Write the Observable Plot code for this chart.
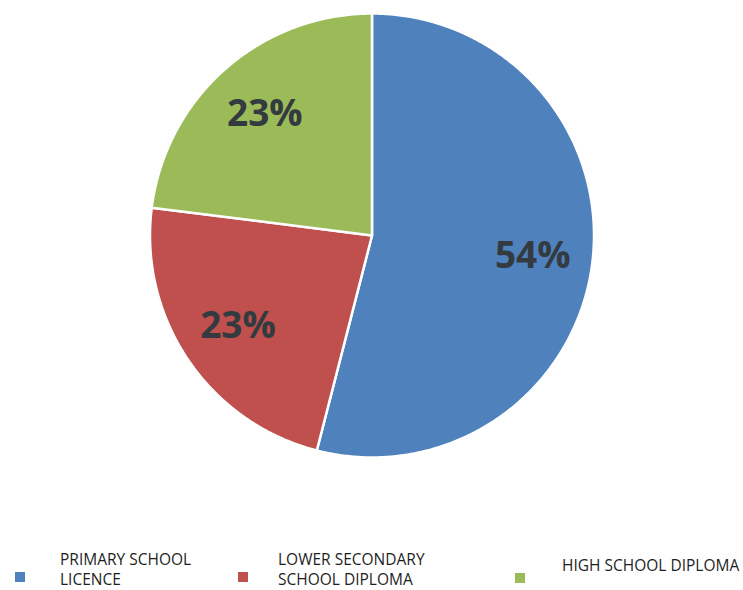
<!DOCTYPE html>
<html>
<head>
<meta charset="utf-8">
<script src="https://cdn.jsdelivr.net/npm/d3@7"></script>
<script src="https://cdn.jsdelivr.net/npm/@observablehq/plot@0.6"></script>
<style>
  html, body { margin: 0; padding: 0; background: #fff; }
  #wrap { position: relative; width: 743px; height: 590px; overflow: hidden; font-family: "Open Sans", sans-serif; }
  #chart { position: absolute; left: 0; top: 0; }
  .leg { position: absolute; font-size: 15.5px; line-height: 20px; color: #1e1e1e; white-space: nowrap; }
  .sw { position: absolute; width: 10px; height: 10px; }
</style>
</head>
<body>
<div id="wrap">
  <div id="chart"></div>
</div>
<script>
// Data
const categories = ["PRIMARY SCHOOL LICENCE", "LOWER SECONDARY SCHOOL DIPLOMA", "HIGH SCHOOL DIPLOMA"];
const legendLines = [["PRIMARY SCHOOL", "LICENCE"], ["LOWER SECONDARY", "SCHOOL DIPLOMA"], ["HIGH SCHOOL DIPLOMA"]];
const values = [54, 23, 23];
const labels = ["54%", "23%", "23%"];
const colors = ["#4f81bd", "#c0504d", "#9bbb59"];

// Pie geometry via d3.pie (angles clockwise from 12 o'clock)
const arcs = d3.pie().sort(null).value(d => d)(values);
const outline = [];
const labelPts = [];
arcs.forEach((a, i) => {
  const cat = categories[i];
  outline.push({cat, x: 0, y: 0});
  const n = Math.max(2, Math.ceil((a.endAngle - a.startAngle) / (Math.PI / 360)));
  for (let k = 0; k <= n; k++) {
    const t = a.startAngle + (a.endAngle - a.startAngle) * k / n;
    outline.push({cat, x: Math.sin(t), y: Math.cos(t)});
  }
  const m = (a.startAngle + a.endAngle) / 2;
  labelPts.push({cat, label: labels[i], x: 0.73 * Math.sin(m), y: 0.73 * Math.cos(m)});
});

const plot = Plot.plot({
  width: 743,
  height: 470,
  margin: 0,
  x: {domain: [-1, 1], range: [149.5, 593.5], axis: null},
  y: {domain: [-1, 1], range: [457, 13], axis: null},
  color: {domain: categories, range: colors},
  marks: [
    Plot.line(outline, {
      x: "x", y: "y", z: "cat", fill: "cat",
      stroke: "white", strokeWidth: 2.5, strokeLinejoin: "round",
      curve: "linear-closed"
    }),
    Plot.text(labelPts, {
      x: "x", y: "y", text: "label",
      fontSize: 37, fontWeight: "bold", fill: "#333a40",
      fontFamily: "Open Sans"
    })
  ]
});
document.getElementById("chart").appendChild(plot);

// Legend
const wrap = document.getElementById("wrap");
const swatchX = [15, 238, 515];
const swatchY = [572, 572, 573];
const textX = [60, 278, 562];
const textY = [549, 549, 555];
categories.forEach((c, i) => {
  const sw = document.createElement("div");
  sw.className = "sw";
  sw.style.left = swatchX[i] + "px";
  sw.style.top = swatchY[i] + "px";
  sw.style.background = colors[i];
  wrap.appendChild(sw);
  const t = document.createElement("div");
  t.className = "leg";
  t.style.left = textX[i] + "px";
  t.style.top = textY[i] + "px";
  t.innerHTML = legendLines[i].join("<br>");
  wrap.appendChild(t);
});
</script>
</body>
</html>
